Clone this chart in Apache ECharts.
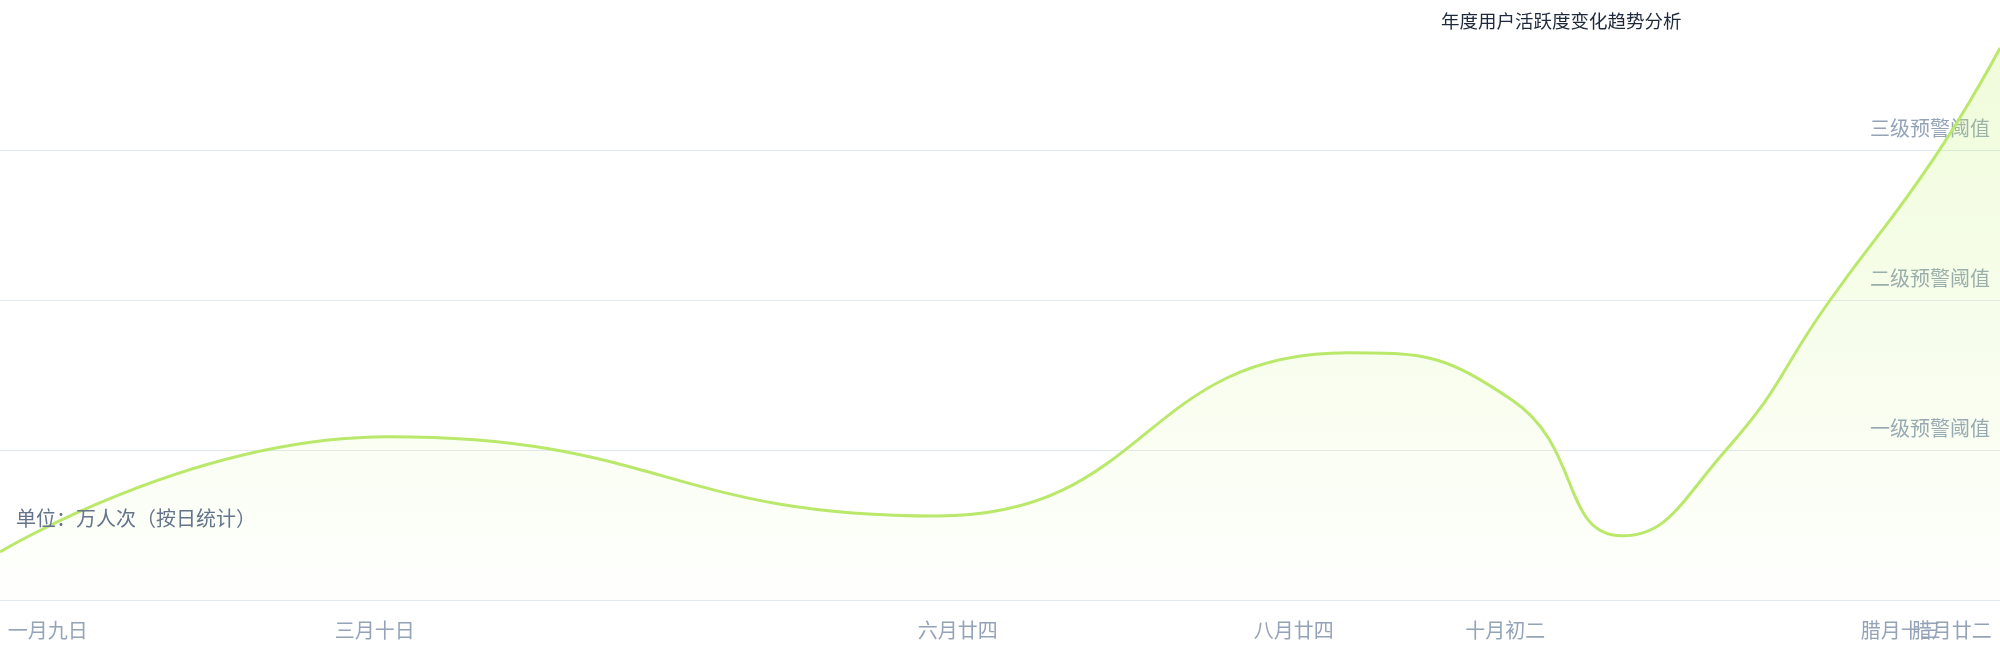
<!DOCTYPE html>
<html>
<head>
<meta charset="utf-8">
<script src="https://cdn.jsdelivr.net/npm/echarts@6/dist/echarts.min.js"></script>
<style>
  html, body { margin: 0; padding: 0; background: #ffffff; }
  #chart { width: 2000px; height: 660px; }
</style>
</head>
<body>
<div id="chart"></div>
<script>
// ---- data ----
const titleText = '年度用户活跃度变化趋势分析';
const subtitleText = '单位：万人次（按日统计）';
// x = day of year, y = value
const pointDays   = [0, 71, 171, 246, 276, 296, 315, 334, 353, 365];
const pointValues = [80, 272, 140, 412, 333, 107, 250, 500, 737, 920];
// x-axis tick labels
const xLabelDays  = [8.7, 68.4, 174.8, 236.1, 274.7, 346.9, 356.2];
const xLabelTexts = ['一月九日', '三月十日', '六月廿四', '八月廿四', '十月初二', '腊月十三', '腊月廿二'];
// y-axis tick labels
const yTickValues = [250, 500, 750];
const yTickTexts  = ['一级预警阈值', '二级预警阈值', '三级预警阈值'];

const FONT = '"Noto Sans CJK SC", "Noto Sans", sans-serif';

const chart = echarts.init(document.getElementById('chart'), null, { renderer: 'canvas' });

const seriesData = pointDays.map((d, i) => [d, pointValues[i]]);

function labelFor(value) {
  let best = 0, bd = Infinity;
  xLabelDays.forEach((d, i) => { const k = Math.abs(d - value); if (k < bd) { bd = k; best = i; } });
  return xLabelTexts[best];
}

function makeXAxis(values, showLine) {
  return {
    type: 'value',
    min: 0,
    max: 365,
    position: 'bottom',
    axisLine: { show: showLine, lineStyle: { color: '#e2e8f0', width: 1 } },
    axisTick: { show: false },
    splitLine: { show: false },
    axisLabel: {
      customValues: values,
      hideOverlap: false,
      showMinLabel: true,
      showMaxLabel: true,
      color: '#94a3b8',
      fontSize: 20,
      fontFamily: FONT,
      margin: 20,
      formatter: labelFor
    }
  };
}

chart.setOption({
  animation: false,
  backgroundColor: '#ffffff',
  title: [
    {
      text: titleText,
      left: 1441,
      top: 12,
      padding: 0,
      textStyle: { color: '#1e293b', fontSize: 18.5, fontWeight: 'normal', fontFamily: FONT }
    },
    {
      text: subtitleText,
      left: 16,
      top: 508,
      padding: 0,
      textStyle: { color: '#64748b', fontSize: 20, fontWeight: 'normal', fontFamily: FONT }
    }
  ],
  grid: { left: 0, right: 0, top: 0, bottom: 60, containLabel: false },
  xAxis: [
    makeXAxis(xLabelDays.slice(0, xLabelDays.length - 1), true),
    makeXAxis(xLabelDays.slice(xLabelDays.length - 1), false)
  ],
  yAxis: {
    type: 'value',
    position: 'right',
    min: 0,
    max: 1000,
    interval: 250,
    axisLine: { show: false },
    axisTick: { show: false },
    splitLine: { show: true, showMaxLine: false, lineStyle: { color: '#e2e8f0', width: 1 } },
    axisLabel: {
      inside: true,
      showMinLabel: false,
      showMaxLabel: false,
      margin: 10,
      color: '#94a3b8',
      fontSize: 20,
      fontFamily: FONT,
      align: 'right',
      verticalAlign: 'bottom',
      lineHeight: 20,
      padding: [0, 0, 12, 0],
      formatter: function (value) {
        const i = yTickValues.indexOf(value);
        return i >= 0 ? yTickTexts[i] : '';
      }
    }
  },
  series: [
    {
      type: 'line',
      xAxisIndex: 0,
      data: seriesData,
      smooth: true,
      showSymbol: false,
      symbol: 'none',
      lineStyle: { color: '#b9e86a', width: 3 },
      areaStyle: {
        color: new echarts.graphic.LinearGradient(0, 0, 0, 1, [
          { offset: 0, color: 'rgba(190, 242, 100, 0.34)' },
          { offset: 1, color: 'rgba(190, 242, 100, 0.02)' }
        ])
      }
    }
  ]
});
</script>
</body>
</html>
